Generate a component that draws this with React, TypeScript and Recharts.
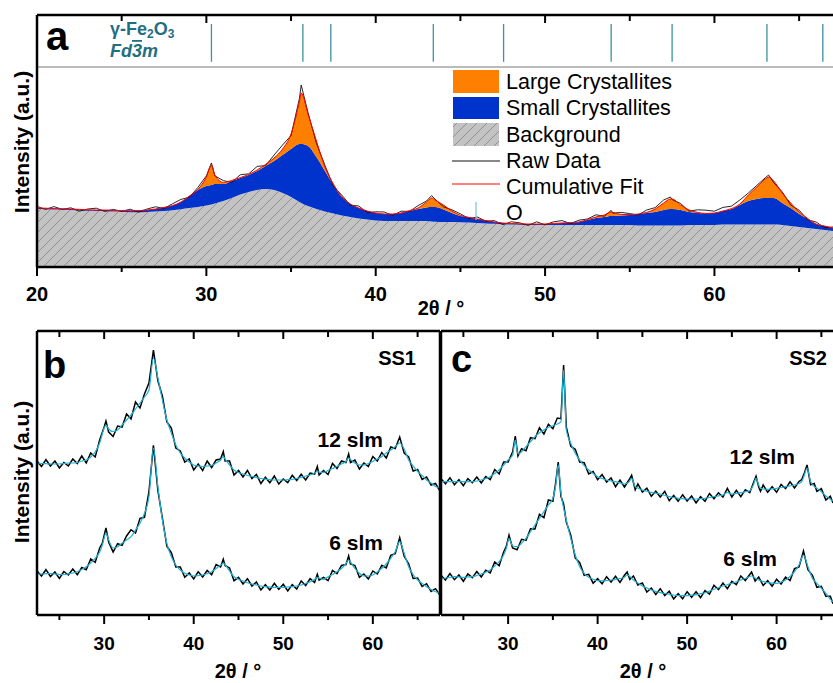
import { ComposedChart, Area, Line, XAxis, YAxis, ReferenceLine } from "recharts";

const FONT = "'Liberation Sans', Arial, Helvetica, sans-serif";
const ORANGE = "#ff8000";
const BLUE = "#0033cc";
const TEAL = "#1f6f82";
const TEAL_TICK = "#3a92a3";
const CYAN = "#1fb3d6";

// ---- panel a : fit components (a.u.) ----
const thetaA = [
  20, 20.5, 21, 21.5, 22, 22.5, 23, 23.5, 24, 24.5,
  25, 25.5, 26, 26.5, 27, 27.5, 28, 28.5, 29, 29.5,
  30, 30.3, 30.5, 31, 31.5, 32, 32.5, 33, 33.5, 34,
  34.5, 35, 35.5, 35.6, 36, 36.5, 37, 37.5, 38, 38.5,
  39, 39.5, 40, 40.5, 41, 41.5, 42, 42.5, 43, 43.3,
  43.5, 44, 44.5, 45, 45.5, 46, 46.5, 47, 47.5, 48,
  48.5, 49, 49.5, 50, 50.5, 51, 51.5, 52, 52.5, 53,
  53.5, 53.9, 54, 54.5, 55, 55.5, 56, 56.5, 57, 57.4,
  57.5, 58, 58.5, 59, 59.5, 60, 60.5, 61, 61.5, 62,
  62.5, 63, 63.2, 63.5, 64, 64.5, 65, 65.5, 66, 66.5,
  67,
];
const backgroundA = [
  29.0, 28.9, 28.7, 28.6, 28.5, 28.3, 28.1, 28.0, 27.9, 27.7,
  27.6, 27.4, 27.4, 27.5, 27.7, 28.0, 28.4, 28.9, 29.5, 30.0,
  30.8, 31.2, 31.8, 33.0, 34.5, 36.2, 37.5, 38.5, 39.0, 38.5,
  37.0, 35.0, 32.5, 32.0, 30.5, 29.0, 27.8, 26.8, 25.8, 25.0,
  24.2, 23.8, 23.2, 23.0, 23.0, 23.0, 23.0, 23.0, 23.0, 22.8,
  22.6, 22.5, 22.5, 22.4, 22.2, 22.0, 21.8, 21.6, 21.4, 21.2,
  21.1, 21.0, 21.0, 21.0, 21.0, 21.0, 21.0, 21.0, 21.0, 21.0,
  21.0, 21.0, 21.0, 21.0, 21.0, 20.8, 20.8, 20.8, 20.8, 20.8,
  20.8, 20.8, 21.0, 21.0, 21.0, 21.0, 21.2, 21.2, 21.2, 21.2,
  21.2, 21.2, 21.2, 21.2, 21.0, 20.5, 20.0, 19.5, 19.0, 18.5,
  18.0,
];
const smallA = [
  0.5, 0.5, 0.5, 0.5, 0.5, 0.5, 0.5, 0.5, 0.6, 0.6,
  0.6, 0.7, 0.8, 1.0, 1.3, 1.8, 2.3, 3.6, 6.0, 8.5,
  9.7, 9.8, 9.7, 8.5, 8.5, 8.3, 8.5, 9.5, 11.5, 14.5,
  19.0, 24.0, 29.0, 29.5, 30.0, 26.0, 20.2, 14.2, 9.2, 6.5,
  5.3, 4.2, 3.8, 3.5, 3.5, 4.0, 5.0, 6.0, 6.8, 7.2,
  7.4, 6.3, 4.5, 3.1, 2.6, 2.0, 1.4, 0.9, 0.6, 0.5,
  0.5, 0.5, 0.5, 0.5, 0.8, 1.0, 1.2, 1.5, 2.5, 3.5,
  4.0, 4.5, 4.5, 4.8, 5.0, 5.7, 6.2, 6.7, 7.7, 8.2,
  8.2, 7.7, 6.5, 6.0, 5.8, 6.0, 6.8, 7.8, 9.8, 11.8,
  12.8, 13.3, 13.3, 13.3, 11.0, 9.0, 6.5, 4.5, 2.5, 2.0,
  1.5,
];
const largeA = [
  0, 0, 0, 0, 0, 0, 0, 0, 0, 0,
  0, 0, 0, 0, 0, 0, 0, 0, 0, 0.3,
  4.5, 10, 4.5, 0.8, 0.3, 0.2, 0.3, 0.5, 0.8, 1.5,
  3, 7.5, 21.5, 25.5, 16, 8, 2, 0.5, 0.2, 0,
  0, 0, 0, 0, 0, 0, 0.2, 0.5, 2.7, 4.5,
  3.5, 2.2, 1, 0.3, 0, 0, 0, 0, 0, 0,
  0, 0, 0, 0, 0, 0, 0, 0, 0.2, 0.5,
  1, 2, 1.8, 0.5, 0.2, 0, 0.3, 1.5, 3.5, 5,
  5, 2.5, 1, 0.3, 0, 0, 0, 0.2, 0.5, 3,
  6, 9.5, 10.5, 8.5, 5, 2.5, 1, 0.3, 0, 0,
  0,
];
// raw data minus cumulative fit
const residualA = [
  0.8, -0.6, 1.0, -0.3, 0.6, -0.9, 0.4, 0.9, -0.7, 0.5,
  -0.4, 0.8, -0.8, 0.5, 1.1, -0.5, 0.9, 1.3, -0.6, 1.0,
  0.6, 1.0, -0.4, 0.9, -1.0, 1.4, 0.3, 1.8, -0.6, 1.5,
  2.0, -0.8, 1.5, 4.0, 0.8, -1.2, 0.9, -1.1, 0.7, -0.6,
  1.0, -0.8, 0.6, 1.0, -0.7, 0.9, -0.4, 1.2, 0.5, 1.2,
  0.4, -0.9, 0.6, 0.8, -0.6, 1.0, -0.3, 0.7, -0.8, 0.9,
  0.5, -0.7, 1.1, -0.4, 0.8, 1.2, -0.5, 0.9, 0.3, 1.1,
  -0.6, 0.8, -0.4, 1.0, 0.5, -0.5, 1.2, 0.7, 1.5, 1.0,
  -0.3, 0.8, -0.6, 1.3, 1.6, 0.9, 1.8, 1.2, 2.0, 1.0,
  0.8, 0.6, 1.0, -0.8, 0.6, -1.0, 0.9, -0.7, 1.0, -0.8,
  0.5,
];
const reflectionsA = [30.3, 35.7, 37.35, 43.4, 47.55, 53.9, 57.5, 63.1, 66.4];
const ticksA = [20, 25, 30, 35, 40, 45, 50, 55, 60, 65];
const ticksBC = [25, 30, 35, 40, 45, 50, 55, 60, 65];

// ---- panels b, c : [2theta, fit, raw - fit] ----
const ss1_12: number[][] = [
  [22.5,152,2],[23,151.5,-3],[23.5,151.3,4],[24,151,-2],[24.5,151,3],[25,151,-4],[25.5,151.5,1],[26,152,-3],[26.5,152,4],[27,152.5,-1],
  [27.5,154,5],[28,155,-3],[28.5,158,4],[29,163,-5],[29.5,172,3],[30,187,1],[30.2,190,4],[30.5,186,-3],[31,183.5,-5],[31.5,185,4],
  [32,190,-2],[32.5,195,6],[33,200,-4],[33.5,206,7],[34,212,-5],[34.5,218,3],[35,225,7],[35.5,257,8],[36,237,-3],[36.5,215,4],
  [37,195,-2],[37.5,182,5],[38,170,-3],[38.5,162,2],[39,157,-4],[39.5,153,3],[40,150,-5],[40.5,149,2],[41,148.5,-4],[41.5,149,5],
  [42,149.5,-2],[42.5,152,3],[43,155,1],[43.3,158.5,5],[43.5,156,-2],[44,150,4],[44.5,145,-5],[45,142.5,2],[45.5,141,-3],[46,139.5,5],
  [46.5,138.5,-2],[47,137.5,3],[47.5,136.5,-5],[48,135.8,2],[48.5,135.3,-3],[49,135,4],[49.5,135,-4],[50,135,1],[50.5,135.3,-3],[51,135.7,4],
  [51.5,136.5,-2],[52,137.7,3],[52.5,139,-4],[53,140,2],[53.5,142,-1],[53.8,143.5,5],[54,143,-3],[54.5,142.5,2],[55,144.5,-4],[55.5,146.5,5],
  [56,148.5,-2],[56.5,151,3],[57,153.5,-1],[57.3,157,4],[57.5,155.5,-3],[58,152,3],[58.5,150,-4],[59,150,2],[59.5,151.5,-3],[60,153.5,5],
  [60.5,156,-2],[61,158.5,4],[61.5,162,-5],[62,165,3],[62.5,168.5,-2],[63,172,6],[63.5,166,-4],[64,155,3],[64.5,149,-5],[65,143.5,2],
  [65.5,139.5,-4],[66,135,3],[66.5,132,-2],[67,128.5,3],[67.5,127,-3],
];
const ss1_6: number[][] = [
  [22.5,41,3],[23,41,-2],[23.5,41.3,4],[24,41.5,-3],[24.5,41,2],[25,40.5,-4],[25.5,40.5,3],[26,41,-1],[26.5,42,4],[27,43.3,-3],
  [27.5,45.5,2],[28,48.3,-3],[28.5,52,4],[29,56.7,-4],[29.5,63,4],[29.8,70,2],[30.2,82,5],[30.5,75,-2],[31,67,-4],[31.5,68.3,3],
  [32,71.7,-2],[32.5,75,4],[33,78.3,7],[33.5,85,-3],[34,91.7,5],[34.5,101.7,-4],[35,118.3,5],[35.5,166.7,3],[36,128.3,-4],[36.5,95,2],
  [37,71.7,-3],[37.5,58.3,4],[38,50,-2],[38.5,45,3],[39,41.7,-4],[39.5,40,2],[40,39,-3],[40.5,39.3,4],[41,40,-2],[41.5,41.5,3],
  [42,43.3,-3],[42.5,46.5,4],[43,50,-2],[43.3,51.7,4],[43.5,50.5,-1],[44,44,3],[44.5,38.3,-4],[45,35.7,2],[45.5,34,-3],[46,32.3,4],
  [46.5,31,-2],[47,30,3],[47.5,29,-4],[48,28.3,2],[48.5,28,-3],[49,27.7,4],[49.5,27.7,-2],[50,27.7,3],[50.5,28,-4],[51,28.3,2],
  [51.5,29,-3],[52,30,4],[52.5,31.5,-2],[53,33.3,3],[53.5,35.5,-3],[53.8,37.7,3],[54,37,-2],[54.5,35.7,2],[55,38.3,-4],[55.5,40.5,4],
  [56,43.3,-2],[56.5,46.5,3],[57,51.5,-1],[57.3,55,4],[57.5,53,-2],[58,46.5,3],[58.5,41.7,-4],[59,39,2],[59.5,39,-3],[60,40,4],
  [60.5,43,-2],[61,46.7,3],[61.5,51,-4],[62,56.7,3],[62.5,63.3,-2],[63,73.3,4],[63.5,61.7,-3],[64,48.3,3],[64.5,40.5,-4],[65,35,2],
  [65.5,31.5,-3],[66,28.3,3],[66.5,25.5,-2],[67,23.3,3],[67.5,21.7,-2],
];
const ss2_12: number[][] = [
  [22.5,133.3,3],[23,133.3,-2],[23.5,133.3,4],[24,133.3,-3],[24.5,133.3,2],[25,133.3,-4],[25.5,133.3,3],[26,133.3,-1],[26.5,134,4],[27,135,-3],
  [27.5,136.5,2],[28,138.3,-3],[28.5,141.5,4],[29,145,-4],[29.5,150,3],[30,155,-2],[30.5,160,3],[30.8,175,4],[31.1,161,-2],[31.5,163.3,3],
  [32,168.3,-4],[32.5,173.3,4],[33,178.3,-2],[33.5,182.3,5],[34,185,-4],[34.5,187.7,3],[35,189.3,-3],[35.5,191,6],[35.9,193.3,3],[36.2,245,5],
  [36.5,185,3],[37,171.7,-3],[37.5,161.7,4],[38,155,-2],[38.5,149.3,3],[39,145,-4],[39.5,141.5,2],[40,138.3,-3],[40.5,136.5,4],[41,135,-2],
  [41.5,134,3],[42,133.3,-5],[42.5,132,3],[43,131,-3],[43.5,133,2],[43.8,136.7,3],[44.2,128.3,-3],[44.5,127,4],[45,125,-2],[45.5,123.8,3],
  [46,122.7,-4],[46.5,121.8,2],[47,121,-3],[47.5,119.7,4],[48,118.3,-4],[48.5,117.5,2],[49,116.7,-3],[49.5,116.3,4],[50,116,-2],[50.5,116,3],
  [51,116,-4],[51.5,116.3,2],[52,116.7,-3],[52.5,117.5,4],[53,118.3,-2],[53.5,119.2,3],[54,120,-2],[54.5,122.7,4],[55,121,-3],[55.5,121.7,3],
  [56,122.3,-4],[56.5,123.3,2],[57,124.3,-2],[57.4,130,2],[57.7,136.7,2],[58,130,-2],[58.2,126.7,-3],[58.5,126,4],[59,125.7,-3],[59.5,126.2,2],
  [60,126.7,-4],[60.5,127.5,3],[61,128.3,-2],[61.5,129.2,4],[62,130,-3],[62.5,131.5,2],[62.8,133.3,2],[63.1,140,2],[63.4,147,3],[63.8,133.3,-3],
  [64.2,128.5,3],[64.5,126.7,-3],[65,123.3,3],[65.5,119,-4],[66,115.7,3],[66.3,114,-2],
];
const ss2_6: number[][] = [
  [22.5,36.7,3],[23,37,-2],[23.5,37.5,4],[24,38.3,-3],[24.5,38,2],[25,37.7,-4],[25.5,38,3],[26,38.3,-1],[26.5,39.5,4],[27,41,-3],
  [27.5,42.8,2],[28,45,-3],[28.5,49,4],[29,53.3,-4],[29.5,60,3],[29.8,66.7,2],[30.1,76.7,3],[30.5,69,-2],[31,68.3,-3],[31.5,71.7,4],
  [32,76.7,-2],[32.5,83.3,3],[33,90,-4],[33.5,96.7,4],[34,103.3,-6],[34.5,110,5],[35,116.7,-3],[35.3,128.3,3],[35.6,150,3],[35.9,121.7,-3],
  [36.2,107,4],[36.5,95,-2],[37,76.7,3],[37.5,60,-3],[38,48.3,4],[38.5,41.7,-2],[39,37.7,3],[39.5,35.8,-4],[40,34.3,2],[40.5,34.2,-3],
  [41,34.3,4],[41.5,35,-2],[42,35.7,3],[42.5,36.5,-4],[43,37.7,2],[43.3,40,3],[43.6,38.5,-3],[44,35,4],[44.5,32,-2],[45,29,3],
  [45.5,27,-4],[46,25,2],[46.5,23.6,-3],[47,22.3,4],[47.5,21.5,-2],[48,20.7,3],[48.5,20,-4],[49,19.3,2],[49.5,19.3,-3],[50,19.3,4],
  [50.5,19.8,-2],[51,20.3,3],[51.5,21.3,-4],[52,22.3,2],[52.5,24,-3],[53,25.7,4],[53.5,27.3,-2],[54,29,3],[54.5,30.3,-4],[55,31.7,2],
  [55.5,33.3,-3],[56,35,4],[56.5,36.5,-2],[57.2,39,4],[57.6,37,-3],[58,35,3],[58.5,33.5,-4],[59,32.3,2],[59.5,31.8,-3],[60,31.7,4],
  [60.5,33,-2],[61,35,3],[61.5,38.5,-4],[62,43.3,3],[62.5,50,-2],[63,60,4],[63.5,48.3,-3],[64,36.7,3],[64.5,31.7,-4],[65,26.7,2],
  [65.5,21.7,-3],[66,15.7,3],[66.3,13.3,-2],
];

const dataA = thetaA.map((x, i) => {
  const fit = backgroundA[i] + smallA[i] + largeA[i];
  return { x, bg: backgroundA[i], small: smallA[i], large: largeA[i], fit, raw: fit + residualA[i] };
});
const fitOf = (rows: number[][]) => rows.map(([x, f]) => ({ x, y: f }));
const rawOf = (rows: number[][]) => rows.map(([x, f, r]) => ({ x, y: f + r }));

const makeLabel = (size: number, dy: number) => (props: any) => {
  const { x, y, payload } = props;
  const v = Number(payload.value);
  if (v % 10 !== 0) return <g />;
  return (
    <text x={x} y={y + dy} textAnchor="middle" fontFamily={FONT} fontWeight={700} fontSize={size} fill="#000">
      {v}
    </text>
  );
};

// frame + inward top ticks + outward bottom ticks, in data units
const frame = (
  xd: [number, number],
  yd: [number, number],
  ticks: number[],
  pxPerUnit: number,
  left: boolean,
  right: boolean,
) => {
  const u = (px: number) => px / pxPerUnit;
  const els = [
    <ReferenceLine key="top" y={yd[1]} stroke="#000" strokeWidth={2.5} ifOverflow="visible" />,
    <ReferenceLine key="bottom" y={yd[0]} stroke="#000" strokeWidth={2.5} ifOverflow="visible" />,
  ];
  if (left) els.push(<ReferenceLine key="left" x={xd[0]} stroke="#000" strokeWidth={2.5} ifOverflow="visible" />);
  if (right) els.push(<ReferenceLine key="right" x={xd[1]} stroke="#000" strokeWidth={2.5} ifOverflow="visible" />);
  ticks.forEach((t) => {
    const major = t % 10 === 0;
    els.push(
      <ReferenceLine key={`b${t}`} segment={[{ x: t, y: yd[0] }, { x: t, y: yd[0] - u(major ? 9 : 5) }]}
        stroke="#000" strokeWidth={2} ifOverflow="visible" />,
      <ReferenceLine key={`t${t}`} segment={[{ x: t, y: yd[1] }, { x: t, y: yd[1] - u(major ? 8 : 6) }]}
        stroke="#000" strokeWidth={2} ifOverflow="visible" />,
    );
  });
  return els;
};

const SpectrumPanel = ({ domain, marginLeft, width, rightBorder, curves }: {
  domain: [number, number];
  marginLeft: number;
  width: number;
  rightBorder: boolean;
  curves: number[][][];
}) => (
  <ComposedChart width={width} height={360} margin={{ top: 31, right: 0, bottom: 0, left: marginLeft }}>
    <XAxis dataKey="x" type="number" domain={domain} ticks={ticksBC} interval={0} allowDataOverflow height={45}
      tickSize={0} tickMargin={0} tickLine={false} axisLine={false} tick={makeLabel(19, 35)} />
    <YAxis type="number" domain={[0, 284]} allowDataOverflow hide />
    {curves.map((rows, i) => (
      <Line key={`raw${i}`} data={rawOf(rows)} dataKey="y" type="linear" stroke="#000" strokeWidth={1.5} dot={false} isAnimationActive={false} />
    ))}
    {curves.map((rows, i) => (
      <Line key={`fit${i}`} data={fitOf(rows)} dataKey="y" type="monotone" stroke={CYAN} strokeWidth={1.2} dot={false} isAnimationActive={false} />
    ))}
    {frame(domain, [0, 284], ticksBC, 1, true, rightBorder)}
  </ComposedChart>
);

const txt = { fontFamily: FONT, fill: "#000" };

export default function App() {
  return (
    <div style={{ position: "absolute", left: 0, top: 0, width: 833, height: 683, overflow: "hidden", background: "#fff" }}>
      <div style={{ position: "absolute", left: 0, top: 0 }}>
        <ComposedChart width={833} height={307} data={dataA} margin={{ top: 15, right: 0, bottom: 0, left: 37 }}>
          <defs>
            <pattern id="hatchA" patternUnits="userSpaceOnUse" width={10} height={10}>
              <rect width={10} height={10} fill="#c3c3c3" />
              <path d="M-1,1 L1,-1 M0,10 L10,0 M9,11 L11,9" stroke="#7a7a7a" strokeWidth={0.7} />
            </pattern>
          </defs>
          <XAxis dataKey="x" type="number" domain={[20, 67]} ticks={ticksA} interval={0} allowDataOverflow height={40}
            tickSize={0} tickMargin={0} tickLine={false} axisLine={false} tick={makeLabel(20, 34)} />
          <YAxis type="number" domain={[0, 126]} allowDataOverflow hide />
          <Area dataKey="bg" stackId="s" type="monotone" fill="url(#hatchA)" fillOpacity={1} stroke="none" isAnimationActive={false} />
          <Area dataKey="small" stackId="s" type="monotone" fill={BLUE} fillOpacity={1} stroke="none" isAnimationActive={false} />
          <Area dataKey="large" stackId="s" type="monotone" fill={ORANGE} fillOpacity={1} stroke="none" isAnimationActive={false} />
          <Line dataKey="raw" type="linear" stroke="#111" strokeWidth={0.9} dot={false} isAnimationActive={false} />
          <Line dataKey="fit" type="monotone" stroke="#ff0000" strokeWidth={1} dot={false} isAnimationActive={false} />
          <ReferenceLine y={100} stroke="#777" strokeWidth={1} />
          {reflectionsA.map((t) => (
            <ReferenceLine key={t} segment={[{ x: t, y: 102.6 }, { x: t, y: 121.5 }]} stroke={TEAL_TICK} strokeWidth={1.3} />
          ))}
          {frame([20, 67], [0, 126], ticksA, 2, true, false)}
        </ComposedChart>
      </div>
      <div style={{ position: "absolute", left: 0, top: 300 }}>
        <SpectrumPanel domain={[22.5, 67.5]} marginLeft={37} width={440} rightBorder curves={[ss1_12, ss1_6]} />
      </div>
      <div style={{ position: "absolute", left: 400, top: 300 }}>
        <SpectrumPanel domain={[22.5, 66.3]} marginLeft={41} width={433} rightBorder={false} curves={[ss2_12, ss2_6]} />
      </div>
      <svg width={833} height={683} style={{ position: "absolute", left: 0, top: 0, pointerEvents: "none" }}>
        <defs>
          <pattern id="hatchL" patternUnits="userSpaceOnUse" width={10} height={10}>
            <rect width={10} height={10} fill="#c3c3c3" />
            <path d="M-1,1 L1,-1 M0,10 L10,0 M9,11 L11,9" stroke="#7a7a7a" strokeWidth={0.7} />
          </pattern>
        </defs>
        {/* panel a labels */}
        <text x={46} y={50} fontSize={40} fontWeight={700} {...txt}>a</text>
        <text x={110} y={35} fontSize={18} fontWeight={700} fontFamily={FONT} fill={TEAL}>
          γ-Fe<tspan fontSize={12} dy={3}>2</tspan><tspan dy={-3}>O</tspan><tspan fontSize={12} dy={3}>3</tspan>
        </text>
        <text x={110} y={57} fontSize={18} fontWeight={700} fontStyle="italic" fontFamily={FONT} fill={TEAL}>
          Fd<tspan style={{ textDecoration: "overline" }}>3</tspan>m
        </text>
        <text transform="translate(29,142) rotate(-90)" textAnchor="middle" fontSize={21} fontWeight={700} {...txt}>Intensity (a.u.)</text>
        <text x={441} y={315} textAnchor="middle" fontSize={20} fontWeight={700} {...txt}>2θ / °</text>
        {/* legend */}
        <rect x={453} y={70} width={46} height={23} fill={ORANGE} />
        <rect x={453} y={97} width={46} height={22} fill={BLUE} />
        <rect x={453} y={123} width={46} height={23} fill="url(#hatchL)" />
        <line x1={452} x2={500} y1={161} y2={161} stroke="#111" strokeWidth={1} />
        <line x1={452} x2={500} y1={184} y2={184} stroke="#ff0000" strokeWidth={1} />
        <line x1={476} x2={476} y1={202} y2={220} stroke="#86c6d2" strokeWidth={1.3} />
        <g fontSize={21.5} {...txt}>
          <text x={506} y={89}>Large Crystallites</text>
          <text x={506} y={115}>Small Crystallites</text>
          <text x={506} y={141.5}>Background</text>
          <text x={506} y={168}>Raw Data</text>
          <text x={506} y={194}>Cumulative Fit</text>
          <text x={506} y={220}>O</text>
        </g>
        {/* panel b labels */}
        <text x={43} y={378} fontSize={38} fontWeight={700} {...txt}>b</text>
        <text x={416} y={365} textAnchor="end" fontSize={20} fontWeight={700} {...txt}>SS1</text>
        <text x={383} y={447} textAnchor="end" fontSize={21} fontWeight={700} {...txt}>12 slm</text>
        <text x={383} y={550} textAnchor="end" fontSize={21} fontWeight={700} {...txt}>6 slm</text>
        <text transform="translate(29,472) rotate(-90)" textAnchor="middle" fontSize={21} fontWeight={700} {...txt}>Intensity (a.u.)</text>
        <text x={238} y={678} textAnchor="middle" fontSize={20} fontWeight={700} {...txt}>2θ / °</text>
        {/* panel c labels */}
        <text x={451} y={372} fontSize={38} fontWeight={700} {...txt}>c</text>
        <text x={827} y={365} textAnchor="end" fontSize={20} fontWeight={700} {...txt}>SS2</text>
        <text x={795} y={464} textAnchor="end" fontSize={21} fontWeight={700} {...txt}>12 slm</text>
        <text x={777} y={566} textAnchor="end" fontSize={21} fontWeight={700} {...txt}>6 slm</text>
        <text x={643} y={678} textAnchor="middle" fontSize={20} fontWeight={700} {...txt}>2θ / °</text>
      </svg>
    </div>
  );
}
